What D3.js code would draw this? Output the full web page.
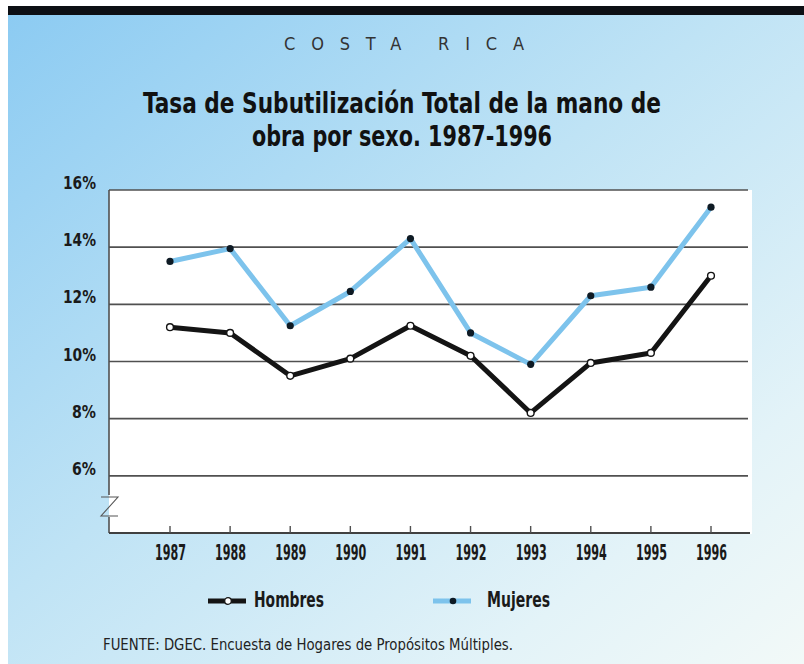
<!DOCTYPE html>
<html>
<head>
<meta charset="utf-8">
<script src="https://cdn.jsdelivr.net/npm/d3@7/dist/d3.min.js"></script>
<style>
  html, body { margin: 0; padding: 0; background: #fff; }
  svg { display: block; }
  .cond { font-family: "Liberation Sans Narrow", "DejaVu Sans Condensed", "DejaVu Sans", sans-serif; font-stretch: condensed; }
</style>
</head>
<body>
<svg id="chart" width="804" height="664"></svg>
<script>
// ---- data ----
const years = [1987, 1988, 1989, 1990, 1991, 1992, 1993, 1994, 1995, 1996];
const hombres = [11.2, 11.0, 9.5, 10.1, 11.25, 10.2, 8.2, 9.95, 10.3, 13.0];
const mujeres = [13.5, 13.95, 11.25, 12.45, 14.3, 11.0, 9.9, 12.3, 12.6, 15.4];
const yTicks = [6, 8, 10, 12, 14, 16];
const yTickLabels = ["6%", "8%", "10%", "12%", "14%", "16%"];
const seriesNames = ["Hombres", "Mujeres"];
const countryLabel = "COSTA RICA";
const titleLines = ["Tasa de Subutilización Total de la mano de", "obra por sexo. 1987-1996"];
const sourceText = "FUENTE:  DGEC. Encuesta de Hogares de Propósitos Múltiples.";

const svg = d3.select("#chart");
const W = 804, H = 664;
const blue = "#7dc3ec";
const black = "#141414";

// background
const defs = svg.append("defs");
const grad = defs.append("linearGradient").attr("id", "bg")
  .attr("x1", "0").attr("y1", "0").attr("x2", "1").attr("y2", "1");
grad.append("stop").attr("offset", "0").attr("stop-color", "#8ccbf2");
grad.append("stop").attr("offset", "0.45").attr("stop-color", "#bfe3f5");
grad.append("stop").attr("offset", "0.8").attr("stop-color", "#e3f3f8");
grad.append("stop").attr("offset", "1").attr("stop-color", "#f2f9f8");

svg.append("rect").attr("x", 0).attr("y", 0).attr("width", W).attr("height", H).attr("fill", "#fff");
svg.append("rect").attr("x", 8).attr("y", 14).attr("width", W - 8).attr("height", H - 14).attr("fill", "url(#bg)");
svg.append("rect").attr("x", 8).attr("y", 6).attr("width", W - 8).attr("height", 9).attr("fill", "#0d0f14");

// headings
svg.append("text").attr("class", "cond")
  .attr("x", 404).attr("y", 50).attr("text-anchor", "middle")
  .attr("font-size", 18).attr("font-weight", 300).attr("fill", "#333")
  .attr("textLength", 240).attr("lengthAdjust", "spacing")
  .text(countryLabel);

svg.append("text").attr("class", "cond")
  .attr("x", 402).attr("y", 113).attr("text-anchor", "middle")
  .attr("font-size", 29).attr("font-weight", "bold").attr("fill", "#111")
  .attr("textLength", 518).attr("lengthAdjust", "spacingAndGlyphs")
  .text(titleLines[0]);
svg.append("text").attr("class", "cond")
  .attr("x", 402).attr("y", 146).attr("text-anchor", "middle")
  .attr("font-size", 29).attr("font-weight", "bold").attr("fill", "#111")
  .attr("textLength", 300).attr("lengthAdjust", "spacingAndGlyphs")
  .text(titleLines[1]);

// scales
const x = d3.scaleLinear().domain([1987, 1996]).range([170, 711]);
const y = d3.scaleLinear().domain([4, 16]).range([533, 190]);
const left = 109, right = 748;

// plot area
svg.append("rect").attr("x", left).attr("y", y(16)).attr("width", right - left + 4).attr("height", y(4) - y(16) + 1).attr("fill", "#fff");

// gridlines
svg.append("g").selectAll("line").data(yTicks).join("line")
  .attr("x1", left).attr("x2", right)
  .attr("y1", d => y(d)).attr("y2", d => y(d))
  .attr("stroke", "#505050").attr("stroke-width", 1.6);

// y labels
svg.append("g").selectAll("text").data(yTicks).join("text")
  .attr("class", "cond")
  .attr("x", 96).attr("y", d => y(d) - 1)
  .attr("text-anchor", "end")
  .attr("font-size", 18).attr("font-weight", "bold").attr("fill", "#1a1a1a")
  .attr("textLength", d => d >= 10 ? 33 : 24).attr("lengthAdjust", "spacingAndGlyphs")
  .text((d, i) => yTickLabels[i]);

// left axis with break
svg.append("line").attr("x1", left).attr("x2", left).attr("y1", y(16)).attr("y2", 495).attr("stroke", "#505050").attr("stroke-width", 1.6);
svg.append("line").attr("x1", left).attr("x2", left).attr("y1", 517).attr("y2", y(4)).attr("stroke", "#505050").attr("stroke-width", 1.6);
svg.append("path").attr("d", "M101,497 L118,497 L101,516 L118,516")
  .attr("fill", "none").attr("stroke", "#555").attr("stroke-width", 1.1);

// bottom axis
const xAxis = d3.axisBottom(x).tickValues(years).tickFormat(d3.format("d")).tickSize(0).tickPadding(12);
const gx = svg.append("g").attr("transform", `translate(0,${y(4)})`).call(xAxis);
gx.select(".domain").remove();
gx.selectAll("text").attr("class", "cond").attr("font-size", 21).attr("font-weight", "bold").attr("fill", "#1a1a1a")
  .attr("textLength", 31).attr("lengthAdjust", "spacingAndGlyphs");
svg.append("line").attr("x1", left).attr("x2", right + 2).attr("y1", y(4)).attr("y2", y(4)).attr("stroke", "#404040").attr("stroke-width", 2);
svg.append("g").selectAll("line").data(years).join("line")
  .attr("x1", d => x(d)).attr("x2", d => x(d))
  .attr("y1", y(4) - 7).attr("y2", y(4))
  .attr("stroke", "#505050").attr("stroke-width", 1.4);

// lines
const line = d3.line().x((d, i) => x(years[i])).y(d => y(d));
svg.append("path").datum(mujeres).attr("d", line).attr("fill", "none")
  .attr("stroke", blue).attr("stroke-width", 5).attr("stroke-linejoin", "round");
svg.append("path").datum(hombres).attr("d", line).attr("fill", "none")
  .attr("stroke", black).attr("stroke-width", 5).attr("stroke-linejoin", "round");

svg.append("g").selectAll("circle").data(mujeres).join("circle")
  .attr("cx", (d, i) => x(years[i])).attr("cy", d => y(d)).attr("r", 3.6)
  .attr("fill", "#0e1a24");
svg.append("g").selectAll("circle").data(hombres).join("circle")
  .attr("cx", (d, i) => x(years[i])).attr("cy", d => y(d)).attr("r", 3.4)
  .attr("fill", "#fff").attr("stroke", black).attr("stroke-width", 1.4);

// legend
const legend = [
  { name: seriesNames[0], x0: 208, tx: 254, tw: 70, color: black, dotFill: "#fff", dotStroke: black },
  { name: seriesNames[1], x0: 433, tx: 487, tw: 63, color: blue, dotFill: "#0e1a24", dotStroke: "none" }
];
const lg = svg.append("g").selectAll("g").data(legend).join("g")
  .attr("transform", d => `translate(${d.x0},601)`);
lg.append("line").attr("x1", 0).attr("x2", 38).attr("y1", 0).attr("y2", 0)
  .attr("stroke", d => d.color).attr("stroke-width", 5);
lg.append("circle").attr("cx", 20).attr("cy", 0).attr("r", 3.3)
  .attr("fill", d => d.dotFill).attr("stroke", d => d.dotStroke).attr("stroke-width", 1.3);
lg.append("text").attr("class", "cond")
  .attr("x", d => d.tx - d.x0).attr("y", 6)
  .attr("font-size", 21).attr("font-weight", "bold").attr("fill", "#1a1a1a")
  .attr("textLength", d => d.tw).attr("lengthAdjust", "spacingAndGlyphs")
  .text(d => d.name);

// source
svg.append("text").attr("class", "cond")
  .attr("x", 103).attr("y", 650)
  .attr("font-size", 16).attr("fill", "#222")
  .attr("textLength", 410).attr("lengthAdjust", "spacingAndGlyphs")
  .text(sourceText);
</script>
</body>
</html>
